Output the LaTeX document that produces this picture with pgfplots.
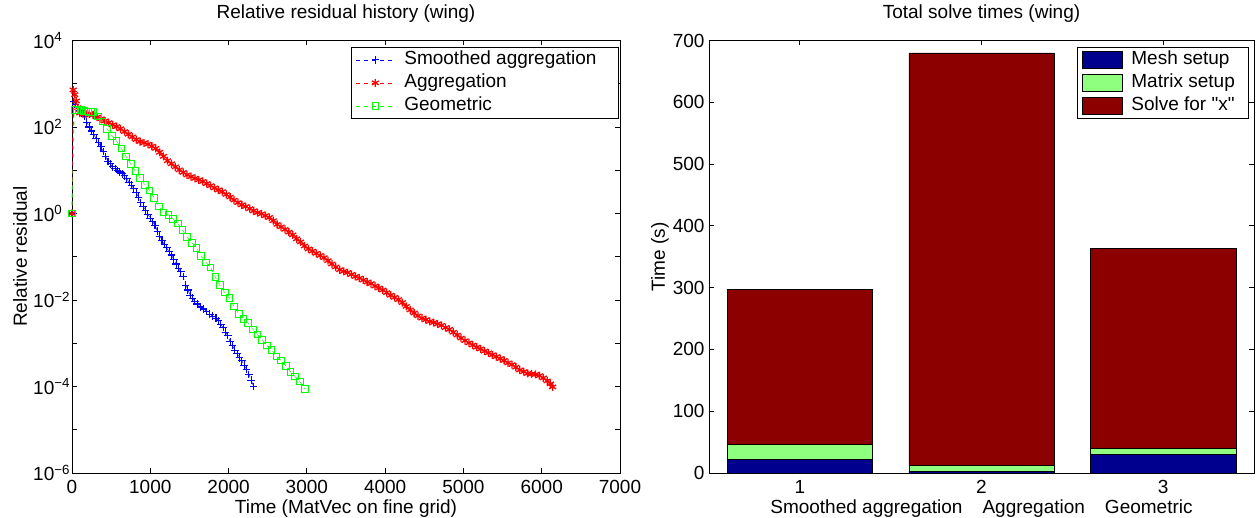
\documentclass[border=0pt]{standalone}
\usepackage{fontspec}
\setmainfont{Liberation Sans}
\usepackage{pgfplots}
\pgfplotsset{compat=1.18}

\definecolor{meshblue}{rgb}{0,0,0.56}
\definecolor{matgreen}{rgb}{0.56,1,0.5}
\definecolor{solvered}{rgb}{0.55,0,0}
\definecolor{mblue}{rgb}{0,0,1}
\definecolor{mred}{rgb}{1,0,0}
\definecolor{mgreen}{rgb}{0,1,0}

% reserve room in a legend image without drawing anything
\newcommand{\legendroom}[1]{\pgfpathrectangle{\pgfpointorigin}{\pgfpoint{#1}{0pt}}\pgfusepath{use as bounding box}}

\pgfplotsset{
  matlab/.style={
    scale only axis,
    height=432.5pt,
    axis line style={line width=0.8pt},
    major tick length=5pt, minor tick length=5pt,
    tick style={line width=0.8pt, black},
    tick align=inside, tick pos=both,
    /pgf/number format/1000 sep={},
    /pgf/number format/assume math mode=true,
    title style={at={(axis description cs:0.5,1)}, anchor=base, yshift=16pt},
    xlabel style={at={(axis description cs:0.5,0)}, anchor=base, yshift=-40.5pt},
    xticklabel style={anchor=base, yshift=-21pt},
    legend cell align=left,
    legend style={line width=0.8pt, inner xsep=5pt, inner ysep=2.5pt,
      row sep=3pt,
      nodes={inner sep=1pt, text height=14pt, text depth=4pt}},
  },
  resid/.style={color=#1, draw=#1, line width=0.5pt, dash pattern=on 4pt off 4pt,
    legend image code/.code={\draw[mark repeat=2, mark phase=2, ##1]
      plot coordinates {(0pt,0pt) (19pt,0pt) (38pt,0pt)};
      \legendroom{47pt}}},
  barpart/.style={draw=black, line width=0.5pt,
    legend image code/.code={\draw[##1] (0pt,-8.5pt) rectangle (40pt,8.5pt);
      \legendroom{48pt}}},
}

\begin{document}
\fontsize{19}{22}\selectfont
\begin{tikzpicture}
\useasboundingbox (0,0) rectangle (1259pt,518pt);

% left: residual history
\begin{axis}[matlab,
  at={(72pt,45pt)}, anchor=south west, width=548pt,
  xmin=0, xmax=7000, xtick={0,1000,...,7000},
  ymode=log, ymin=1e-6, ymax=1e4,
  ytick={1e-6,1e-4,1e-2,1,1e2,1e4},
  yticklabels={10\textsuperscript{−6},10\textsuperscript{−4},10\textsuperscript{−2},10\textsuperscript{0},10\textsuperscript{2},10\textsuperscript{4}},
  yticklabel style={anchor=west, inner sep=0pt, xshift=-39pt},
  minor ytick={1e-5,1e-3,1e-1,1e1,1e3},
  title={Relative residual history (wing)},
  xlabel={Time (MatVec on fine grid)},
  ylabel={Relative residual},
  ylabel style={at={(axis description cs:-0.0949,0.5)}, anchor=center},
  legend style={at={(axis description cs:1,1)}, anchor=north east, xshift=-1pt, yshift=-6.5pt},
]
\addplot[resid=mblue, mark=+, mark size=3.8pt,
  mark options={solid, draw=mblue, line width=1.1pt}] coordinates {
(0,1) (20,390) (45,330) (70,280) (100,240) (130,210) (160,180) (190,130)
(220,100) (250,81) (280,66) (310,54) (340,43) (370,35) (400,27) (430,21)
(460,16) (490,14) (520,12) (550,11) (580,9.8) (610,9.1) (640,8.3) (670,7.4)
(700,6.3) (730,5.3) (760,4.5) (790,3.8) (820,3.0) (850,2.4) (880,1.8)
(910,1.45) (940,1.2) (970,0.95) (1000,0.78) (1030,0.64) (1060,0.54)
(1090,0.39) (1120,0.3) (1150,0.24) (1180,0.19) (1210,0.16) (1240,0.13)
(1270,0.11) (1300,0.085) (1330,0.068) (1360,0.053) (1390,0.045) (1420,0.035)
(1450,0.022) (1480,0.017) (1510,0.013) (1540,0.011) (1570,0.0093)
(1600,0.0081) (1640,0.0069) (1680,0.0062) (1720,0.0054) (1760,0.0047)
(1800,0.0042) (1840,0.0038) (1870,0.0033) (1900,0.0027) (1930,0.0023)
(1960,0.0018) (1990,0.0015) (2020,0.0011) (2050,0.00088) (2080,0.00069)
(2110,0.00057) (2140,0.00046) (2170,0.00039) (2200,0.00031) (2230,0.00025)
(2260,0.00019) (2290,0.00014) (2320,0.0001)
};
\addlegendentry{Smoothed aggregation\rule{16pt}{0pt}}
\addplot[resid=mred, mark=asterisk, mark size=4pt,
  mark options={solid, draw=mred, line width=1.3pt}] coordinates {
(0,1) (15,720) (35,560) (55,400) (75,280) (100,210) (140,200) (180,200)
(220,200) (270,190) (320,170) (370,155) (420,138) (470,126) (520,112)
(570,102) (620,91) (670,78) (720,68) (770,59) (820,51) (870,46) (920,43)
(970,40) (1020,36) (1070,32) (1120,26) (1170,21) (1220,16.6) (1270,14.1)
(1320,12) (1370,10.2) (1420,8.9) (1470,7.8) (1520,7.1) (1570,6.5) (1620,6.0)
(1670,5.5) (1720,4.9) (1770,4.4) (1820,3.9) (1870,3.5) (1920,3.2)
(1970,2.75) (2020,2.4) (2070,2.04) (2120,1.78) (2170,1.58) (2220,1.45)
(2270,1.29) (2320,1.15) (2370,1.05) (2420,0.98) (2470,0.89) (2520,0.81)
(2570,0.68) (2620,0.56) (2670,0.49) (2720,0.43) (2770,0.37) (2820,0.32)
(2870,0.26) (2920,0.22) (2970,0.178) (3020,0.151) (3070,0.135) (3120,0.12)
(3170,0.107) (3220,0.095) (3270,0.081) (3320,0.068) (3370,0.058) (3420,0.05)
(3470,0.046) (3520,0.043) (3570,0.039) (3620,0.035) (3670,0.032)
(3720,0.029) (3770,0.026) (3820,0.024) (3870,0.021) (3920,0.019)
(3970,0.017) (4020,0.0148) (4070,0.0129) (4120,0.0115) (4170,0.0102)
(4220,0.0087) (4270,0.0071) (4320,0.0059) (4370,0.005) (4420,0.0043)
(4470,0.0038) (4520,0.0035) (4570,0.0032) (4620,0.003) (4670,0.0028)
(4720,0.0026) (4770,0.0023) (4820,0.0021) (4870,0.0018) (4920,0.00155)
(4970,0.00132) (5020,0.00115) (5070,0.00102) (5120,0.00091) (5170,0.00081)
(5220,0.00074) (5270,0.00066) (5320,0.0006) (5370,0.00054) (5420,0.00049)
(5470,0.00044) (5520,0.0004) (5570,0.00035) (5620,0.00032) (5670,0.00028)
(5720,0.00024) (5770,0.00022) (5820,0.0002) (5870,0.000195) (5920,0.00019)
(5970,0.000178) (6020,0.000158) (6070,0.000135) (6110,0.000115) (6140,0.000098)
};
\addlegendentry{Aggregation}
\addplot[resid=mgreen, mark=square, mark size=3.3pt,
  mark options={solid, draw=mgreen, line width=0.9pt}] coordinates {
(0,1) (30,250) (60,245) (90,240) (120,245) (150,235) (180,230) (210,225)
(240,220) (270,220) (330,175) (390,135) (450,91) (510,63) (570,47) (630,32)
(690,21) (750,14) (810,9.5) (870,6.6) (930,4.6) (990,3.4) (1050,2.3)
(1110,1.45) (1170,1.05) (1230,0.93) (1290,0.76) (1350,0.59) (1410,0.41)
(1470,0.29) (1530,0.21) (1590,0.16) (1650,0.105) (1710,0.074) (1770,0.057)
(1830,0.034) (1890,0.022) (1950,0.015) (2010,0.011) (2070,0.0071)
(2130,0.0048) (2190,0.0037) (2250,0.0029) (2310,0.0021) (2370,0.0016)
(2430,0.0012) (2490,0.00088) (2550,0.00069) (2610,0.0005) (2670,0.0004)
(2730,0.0003) (2790,0.00022) (2850,0.00017) (2910,0.00013) (2975,0.000088)
};
\addlegendentry{Geometric}
\end{axis}

% right: stacked solve times
\begin{axis}[matlab,
  at={(709pt,45pt)}, anchor=south west, width=545pt,
  ybar stacked, bar width=0.8,
  xmin=0.5, xmax=3.5, xtick={1,2,3},
  ymin=0, ymax=700, ytick={0,100,...,700},
  yticklabel style={xshift=2pt},
  title={Total solve times (wing)},
  xlabel={Smoothed aggregation\hspace{20pt}Aggregation\hspace{20pt}Geometric},
  ylabel={Time (s)},
  ylabel style={at={(axis description cs:-0.09,0.5)}, anchor=center},
  legend style={at={(axis description cs:1,1)}, anchor=north east, xshift=-5pt, yshift=-6.5pt},
]
\addplot[barpart, fill=meshblue] coordinates {(1,22) (2,3.2) (3,29.7)};
\addlegendentry{Mesh setup}
\addplot[barpart, fill=matgreen] coordinates {(1,24) (2,8.7) (3,10.3)};
\addlegendentry{Matrix setup}
\addplot[barpart, fill=solvered] coordinates {(1,251) (2,668) (3,324)};
\addlegendentry{Solve for \textquotedbl x\textquotedbl\rule{8pt}{0pt}}
\end{axis}
\end{tikzpicture}
\end{document}
